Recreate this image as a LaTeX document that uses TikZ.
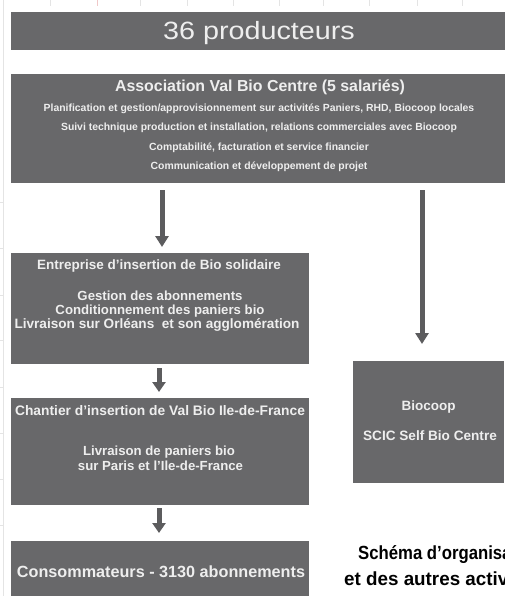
\documentclass[tikz,border=0pt]{standalone}
\usepackage{fontspec}
\setmainfont{Liberation Sans}
\usetikzlibrary{arrows.meta}
\definecolor{boxgrey}{RGB}{104,104,106}
\definecolor{arrowgrey}{RGB}{92,92,94}
\definecolor{txtwhite}{RGB}{238,238,238}
\definecolor{gridgrey}{RGB}{228,228,228}
\definecolor{gridred}{RGB}{240,200,200}
\tikzset{
  box/.style={fill=boxgrey, draw=none, inner sep=0pt, anchor=north west},
  lbl/.style={text=txtwhite, font=\bfseries, inner sep=0pt, anchor=base},
  bigarrow/.style={draw=arrowgrey, line width=5pt, -{Triangle[width=13pt,length=11pt]}},
  smallarrow/.style={draw=arrowgrey, line width=5pt, -{Triangle[width=13pt,length=10pt]}},
  gridline/.style={draw=gridgrey, line width=0.6pt},
  caption/.style={text=black, inner sep=0pt, anchor=base west}
}
\begin{document}
\begin{tikzpicture}[x=1pt,y=-1pt]
\useasboundingbox (0,0) rectangle (505,596);
\fill[white] (0,0) rectangle (505,596);
\begin{scope}
\clip (0,0) rectangle (505,596);
% faint spreadsheet grid
\draw[gridline] (3.5,0) -- (3.5,596);
\foreach \gx in {50,140,187,233,279,323,369,417,462} \draw[gridline] (\gx,0) -- (\gx,6);
\draw[draw=gridred, line width=0.6pt] (97,0) -- (97,6);
\foreach \gy in {202,248,295,340,387,433,479,525} \draw[gridline] (0,\gy) -- (3.5,\gy);
% boxes
\node[box, minimum width=510, minimum height=38] (prod) at (11,12) {};
\node[box, minimum width=510, minimum height=109] (assoc) at (11,74) {};
\node[box, minimum width=298, minimum height=111] (ent) at (11,253) {};
\node[box, minimum width=298, minimum height=107] (chan) at (11,398) {};
\node[box, minimum width=298, minimum height=55] (cons) at (11,541) {};
\node[box, minimum width=151, minimum height=122] (bio) at (353,361) {};
% texts
\node[lbl, font=\fontsize{25}{28}\selectfont] (tprod) at (259,40) {\scalebox{1.15}[1]{36 producteurs}};
\node[lbl, font=\fontsize{15.9}{18}\selectfont\bfseries] (tassoc) at (260,92) {Association Val Bio Centre (5 salariés)};
\node[lbl, font=\fontsize{10.4}{12}\selectfont\bfseries] (ta1) at (259,111.5) {Planification et gestion/approvisionnement sur activités Paniers, RHD, Biocoop locales};
\node[lbl, font=\fontsize{10.4}{12}\selectfont\bfseries] (ta2) at (259,131) {Suivi technique production et installation, relations commerciales avec Biocoop};
\node[lbl, font=\fontsize{10.4}{12}\selectfont\bfseries] (ta3) at (259,150) {Comptabilité, facturation et service financier};
\node[lbl, font=\fontsize{10.4}{12}\selectfont\bfseries] (ta4) at (259,169.5) {Communication et développement de projet};
\node[lbl, font=\fontsize{13.5}{15}\selectfont\bfseries] (tent) at (159,269) {Entreprise d’insertion de Bio solidaire};
\node[lbl, font=\fontsize{13.2}{15}\selectfont\bfseries] (te1) at (160,300) {Gestion des abonnements};
\node[lbl, font=\fontsize{13.2}{15}\selectfont\bfseries] (te2) at (160,314) {Conditionnement des paniers bio};
\node[lbl, font=\fontsize{13.6}{15}\selectfont\bfseries] (te3) at (157,328.5) {Livraison sur Orléans\ \ et son agglomération};
\node[lbl, font=\fontsize{13.8}{15}\selectfont\bfseries] (tchan) at (160,415) {Chantier d’insertion de Val Bio Ile-de-France};
\node[lbl, font=\fontsize{13.2}{15}\selectfont\bfseries] (tc1) at (159,455) {Livraison de paniers bio};
\node[lbl, font=\fontsize{13.2}{15}\selectfont\bfseries] (tc2) at (160.5,470) {sur Paris et l’Ile-de-France};
\node[lbl, font=\fontsize{16.2}{18}\selectfont\bfseries] (tcons) at (161,577) {Consommateurs - 3130 abonnements};
\node[lbl, font=\fontsize{13.5}{15}\selectfont\bfseries] (tb1) at (428.5,410) {Biocoop};
\node[lbl, font=\fontsize{13.6}{15}\selectfont\bfseries] (tb2) at (430,440) {SCIC Self Bio Centre};
% caption (cut at the right edge, as in the reference)
\node[caption, font=\fontsize{19}{21}\selectfont\bfseries] (cap1) at (358,559) {\scalebox{0.88}[1]{Schéma d’organisa}};
\node[caption, font=\fontsize{19}{21}\selectfont\bfseries] (cap2) at (344,585) {\scalebox{0.99}[1]{et des autres activ}};
% arrows
\coordinate (lx) at (162,0);
\coordinate (rx) at (422,0);
\coordinate (sx) at (159,0);
\draw[bigarrow] ([yshift=-7pt]assoc.south -| lx) -- ([yshift=6pt]ent.north -| lx);
\draw[bigarrow] ([yshift=-7pt]assoc.south -| rx) -- ([yshift=17pt]bio.north -| rx);
\draw[smallarrow] ([yshift=-4pt]ent.south -| sx) -- ([yshift=6pt]chan.north -| sx);
\draw[smallarrow] ([yshift=-3pt]chan.south -| sx) -- ([yshift=8pt]cons.north -| sx);
\end{scope}
\end{tikzpicture}
\end{document}
